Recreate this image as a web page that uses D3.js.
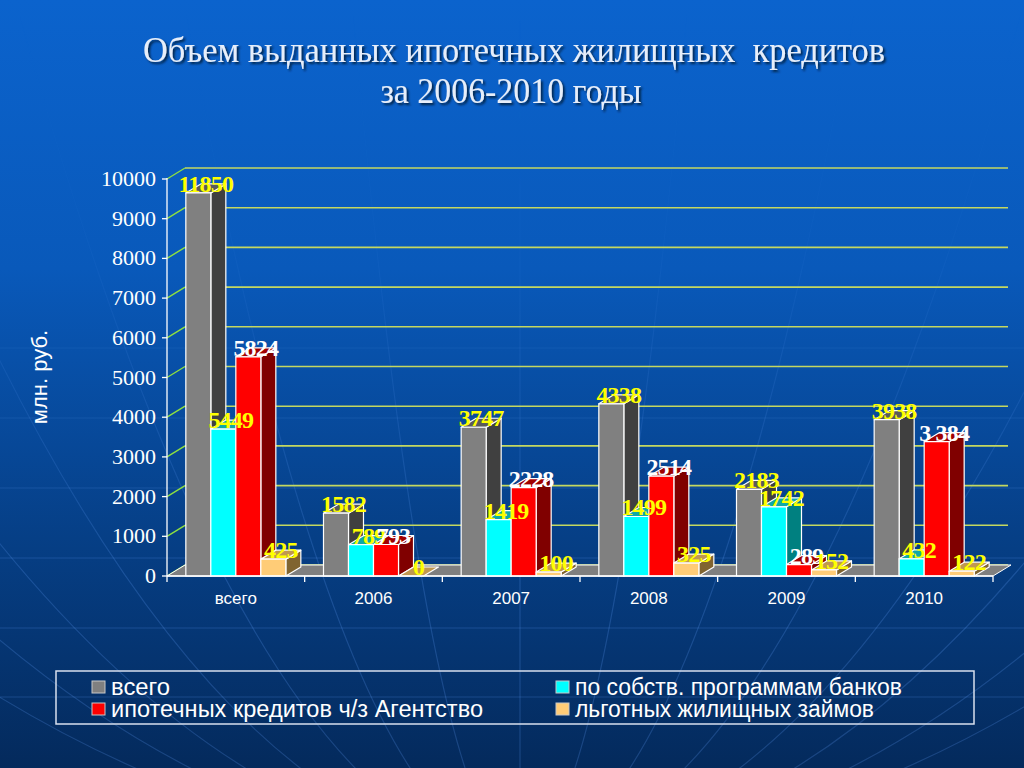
<!DOCTYPE html>
<html><head><meta charset="utf-8">
<script src="https://cdn.jsdelivr.net/npm/d3@7/dist/d3.min.js"></script>
<style>html,body{margin:0;padding:0;background:#06489a;}svg{display:block;}</style>
</head><body>
<script>
// ---- data ----
const categories = ["всего", "2006", "2007", "2008", "2009", "2010"];
const seriesNames = ["всего", "по собств. программам банков", "ипотечных кредитов ч/з Агентство", "льготных жилищных займов"];
// drawn bar heights
const totalValues  = [9650, 1582, 3747, 4338, 2183, 3938];
const bankValues   = [3700, 789, 1419, 1499, 1742, 432];
const agencyValues = [5520, 793, 2228, 2514, 289, 3384];
const loanValues   = [425, 0, 100, 325, 152, 122];
// data labels as printed on the picture
const totalLabels  = ["11850", "1582", "3747", "4338", "2183", "3938"];
const bankLabels   = ["5449", "789", "1419", "1499", "1742", "432"];
const agencyLabels = ["5824", "793", "2228", "2514", "289", "3 384"];
const loanLabels   = ["425", "0", "100", "325", "152", "122"];
const yTicks = [0, 1000, 2000, 3000, 4000, 5000, 6000, 7000, 8000, 9000, 10000];
const titleLines = ["Объем выданных ипотечных жилищных  кредитов", "за 2006-2010 годы"];
const yTitle = "млн. руб.";

const W = 1024, H = 768;
const svg = d3.select("body").append("svg").attr("width", W).attr("height", H);
const defs = svg.append("defs");
const bg = defs.append("linearGradient").attr("id", "bg").attr("x1", 0).attr("y1", 0).attr("x2", 0).attr("y2", 1);
bg.append("stop").attr("offset", "0").attr("stop-color", "#0b63cd");
bg.append("stop").attr("offset", "0.35").attr("stop-color", "#0959ba");
bg.append("stop").attr("offset", "0.7").attr("stop-color", "#063f86");
bg.append("stop").attr("offset", "1").attr("stop-color", "#042a5c");
const sh = defs.append("filter").attr("id", "sh").attr("x", "-5%").attr("y", "-20%").attr("width", "110%").attr("height", "140%");
sh.append("feDropShadow").attr("dx", 2).attr("dy", 2).attr("stdDeviation", 1).attr("flood-color", "#001a3a").attr("flood-opacity", 0.9);
const fade = defs.append("linearGradient").attr("id", "fade").attr("x1", 0).attr("y1", 0).attr("x2", 0).attr("y2", 1);
fade.append("stop").attr("offset", "0").attr("stop-color", "#fff").attr("stop-opacity", 0);
fade.append("stop").attr("offset", "0.3").attr("stop-color", "#fff").attr("stop-opacity", 0.15);
fade.append("stop").attr("offset", "0.75").attr("stop-color", "#fff").attr("stop-opacity", 1);
fade.append("stop").attr("offset", "1").attr("stop-color", "#fff").attr("stop-opacity", 1);
defs.append("mask").attr("id", "fm").attr("maskUnits", "userSpaceOnUse")
  .append("rect").attr("width", W).attr("height", H).attr("fill", "url(#fade)");

svg.append("rect").attr("width", W).attr("height", H).attr("fill", "url(#bg)");

// decorative globe lines
const deco = svg.append("g").attr("fill", "none").attr("stroke", "#6aa4ff").attr("stroke-opacity", 0.22)
  .attr("stroke-width", 1.2).attr("mask", "url(#fm)");
[348, 418, 488, 558, 628, 697].forEach(yy => deco.append("line").attr("x1", 0).attr("x2", W).attr("y1", yy).attr("y2", yy));
const pole = [520, 1500];
d3.range(-7, 8).forEach(k => {
  const topX = 520 + k * 170;
  const mx = (topX + pole[0]) / 2 + k * 25, my = 650;
  deco.append("path").attr("d", `M${topX},-20 Q${mx},${my} ${pole[0] + k * 40},${H + 40}`);
});

// ---- scales ----
const x0 = d3.scaleBand().domain(categories).range([167, 993]).paddingInner(0).paddingOuter(0);
const keys = [0, 1, 2, 3];
const x1 = d3.scaleBand().domain(keys).range([0, x0.bandwidth()]).paddingInner(0).paddingOuter(0.753);
const y = d3.scaleLinear().domain([0, 10000]).range([576, 179]);

const FDX = 18, FDY = -11;   // floor / wall depth
const BDX = 15, BDY = -9;    // bar depth

// ---- walls / gridlines ----
const grid = svg.append("g");
grid.selectAll("line.back").data(yTicks).join("line")
  .attr("x1", 167 + FDX).attr("x2", 1008)
  .attr("y1", d => y(d) + FDY).attr("y2", d => y(d) + FDY)
  .attr("stroke", "#c4d860").attr("stroke-width", 1.6);
grid.selectAll("line.side").data(yTicks).join("line")
  .attr("x1", 167).attr("x2", 167 + FDX)
  .attr("y1", d => y(d)).attr("y2", d => y(d) + FDY)
  .attr("stroke", "#8fe040").attr("stroke-width", 1.4);

// floor
const [fx0, fx1] = x0.range();
svg.append("polygon")
  .attr("points", [[fx0, y(0)], [fx1, y(0)], [fx1 + FDX, y(0) + FDY], [fx0 + FDX, y(0) + FDY]].join(" "))
  .attr("fill", "#7f7f7f").attr("stroke", "#ffffff").attr("stroke-width", 1);

// ---- bars ----
const series = [
  {vals: totalValues,  labels: totalLabels,  front: "#808080", side: "#404040", top: "#5a5a5a", lab: "#ffff00"},
  {vals: bankValues,   labels: bankLabels,   front: "#00ffff", side: "#008080", top: "#10a8a8", lab: "#ffff00"},
  {vals: agencyValues, labels: agencyLabels, front: "#ff0000", side: "#800000", top: "#a00000", lab: "#ffffff"},
  {vals: loanValues,   labels: loanLabels,   front: "#ffcc77", side: "#806430", top: "#c09850", lab: "#ffff00"}
];
const bw = x1.bandwidth();
const barG = svg.append("g").attr("stroke", "#ffffff").attr("stroke-width", 1.2).attr("stroke-linejoin", "round");
categories.forEach((c, ci) => {
  series.forEach((s, si) => {
    const v = s.vals[ci];
    const bx = x0(c) + x1(si), yt = y(v), yb = y(0);
    const g = barG.append("g");
    if (v > 0) {
      g.append("polygon").attr("fill", s.side)
        .attr("points", [[bx + bw, yt], [bx + bw + BDX, yt + BDY], [bx + bw + BDX, yb + BDY], [bx + bw, yb]].join(" "));
    }
    g.append("polygon").attr("fill", s.top)
      .attr("points", [[bx, yt], [bx + BDX, yt + BDY], [bx + bw + BDX, yt + BDY], [bx + bw, yt]].join(" "));
    if (v > 0) {
      g.append("rect").attr("fill", s.front).attr("x", bx).attr("y", yt).attr("width", bw).attr("height", yb - yt);
    }
  });
});

// ---- axes ----
const axG = svg.append("g").attr("stroke", "#ffffff").attr("stroke-width", 1.3);
axG.append("line").attr("x1", 167).attr("x2", 167).attr("y1", y(0)).attr("y2", y(10000) - 1);
axG.append("line").attr("x1", 167).attr("x2", 993).attr("y1", y(0)).attr("y2", y(0));
axG.selectAll("line.yt").data(yTicks).join("line").attr("x1", 162).attr("x2", 167).attr("y1", d => y(d)).attr("y2", d => y(d));
const bounds = categories.map(c => x0(c)).concat([x0.range()[1]]);
axG.selectAll("line.xt").data(bounds).join("line").attr("x1", d => d).attr("x2", d => d).attr("y1", y(0)).attr("y2", y(0) + 6);

svg.append("g").selectAll("text").data(yTicks).join("text")
  .attr("x", 156).attr("y", d => y(d) + 7).attr("text-anchor", "end")
  .attr("font-family", "'Liberation Serif','Times New Roman',serif").attr("font-size", 22)
  .attr("fill", "#ffffff").text(d => d);

svg.append("g").selectAll("text").data(categories).join("text")
  .attr("x", d => x0(d) + x0.bandwidth() / 2).attr("y", 604).attr("text-anchor", "middle")
  .attr("font-family", "'Liberation Sans',Arial,sans-serif").attr("font-size", 17)
  .attr("fill", "#ffffff").text(d => d);

svg.append("text").attr("transform", "translate(47,377) rotate(-90)").attr("text-anchor", "middle")
  .attr("font-family", "'Liberation Sans',Arial,sans-serif").attr("font-size", 22)
  .attr("fill", "#ffffff").text(yTitle);

// ---- data labels ----
const labG = svg.append("g").attr("font-family", "'Liberation Serif','Times New Roman',serif")
  .attr("font-weight", "bold").attr("font-size", 24).attr("text-anchor", "middle").attr("letter-spacing", -0.8);
series.forEach((s, si) => {
  categories.forEach((c, ci) => {
    const bx = x0(c) + x1(si);
    labG.append("text").attr("x", bx + (bw + BDX) / 2).attr("y", y(s.vals[ci]) - 1)
      .attr("fill", s.lab).text(s.labels[ci]);
  });
});

// ---- title ----
const tG = svg.append("g").attr("font-family", "'Liberation Serif','Times New Roman',serif")
  .attr("font-size", 36).attr("fill", "#e6eefa").attr("text-anchor", "middle").attr("filter", "url(#sh)")
  .style("white-space", "pre");
tG.append("text").attr("x", 514).attr("y", 62).attr("textLength", 742).attr("lengthAdjust", "spacingAndGlyphs")
  .attr("xml:space", "preserve").text(titleLines[0]);
tG.append("text").attr("x", 511).attr("y", 103).attr("textLength", 261).attr("lengthAdjust", "spacingAndGlyphs").text(titleLines[1]);

// ---- legend ----
const leg = svg.append("g");
leg.append("rect").attr("x", 56).attr("y", 671).attr("width", 918).attr("height", 53)
  .attr("fill", "none").attr("stroke", "#d8e0ee").attr("stroke-width", 1.5);
const legPos = [[92, 681], [556, 681], [92, 703], [556, 703]];
const legWidths = [59, 327, 372, 299];
[0, 1, 2, 3].forEach(i => {
  const [lx, ly] = legPos[i];
  leg.append("rect").attr("x", lx).attr("y", ly).attr("width", 13).attr("height", 12)
    .attr("fill", series[i].front).attr("stroke", "#c8c8c8").attr("stroke-width", 1);
  leg.append("text").attr("x", lx + 19).attr("y", ly + 14)
    .attr("font-family", "'Liberation Sans',Arial,sans-serif").attr("font-size", 23)
    .attr("textLength", legWidths[i]).attr("lengthAdjust", "spacingAndGlyphs")
    .attr("fill", "#ffffff").text(seriesNames[i]);
});
</script>
</body></html>
